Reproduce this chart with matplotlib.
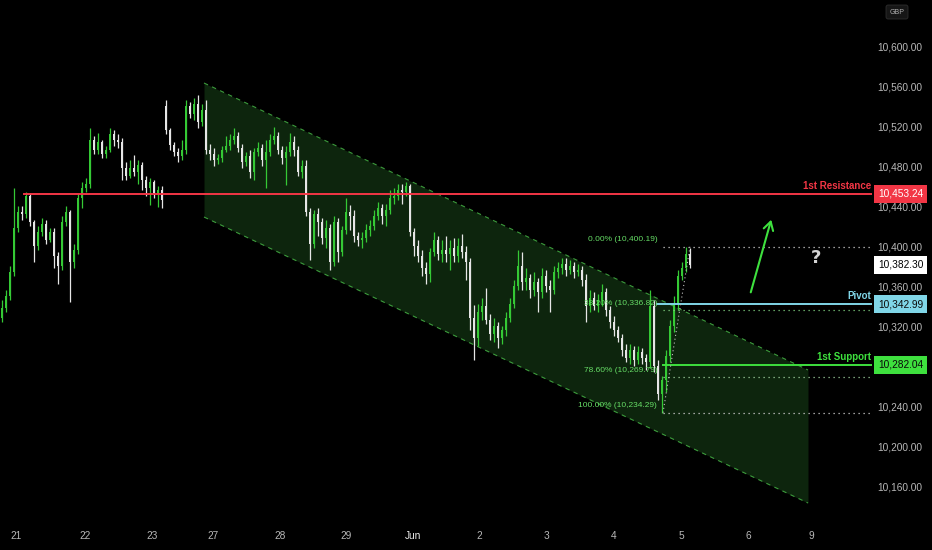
import numpy as np
import matplotlib.pyplot as plt
from matplotlib.transforms import blended_transform_factory

# hourly-ish candles (GBP index)
opens = [10329, 10339, 10351, 10375, 10419, 10435, 10433, 10451, 10425, 10401,
         10415, 10423, 10407, 10415, 10391, 10381, 10425, 10435, 10385, 10397,
         10449, 10459, 10463, 10507, 10497, 10505, 10493, 10497, 10513, 10507,
         10505, 10479, 10471, 10479, 10475, 10482, 10467, 10459, 10465, 10453,
         10457, 10541, 10517, 10502, 10495, 10491, 10497, 10541, 10533, 10543,
         10525, 10537, 10497, 10493, 10487, 10489, 10497, 10501, 10507, 10511,
         10499, 10485, 10491, 10475, 10495, 10499, 10487, 10495, 10507, 10511,
         10497, 10489, 10495, 10505, 10497, 10475, 10481, 10435, 10403, 10433,
         10425, 10409, 10419, 10385, 10425, 10395, 10417, 10435, 10431, 10411,
         10407, 10409, 10417, 10421, 10431, 10439, 10431, 10437, 10449, 10451,
         10457, 10455, 10461, 10415, 10401, 10391, 10379, 10373, 10395, 10407,
         10393, 10397, 10393, 10399, 10391, 10401, 10395, 10385, 10329, 10309,
         10335, 10341, 10327, 10313, 10321, 10309, 10317, 10329, 10343, 10361,
         10381, 10365, 10369, 10357, 10365, 10355, 10371, 10361, 10357, 10375,
         10379, 10383, 10377, 10381, 10375, 10377, 10367, 10341, 10349, 10341,
         10347, 10355, 10337, 10325, 10317, 10309, 10297, 10289, 10297, 10287,
         10295, 10289, 10285, 10341, 10281, 10253, 10267, 10291, 10321, 10343,
         10371, 10379, 10393]
closes = [10339, 10351, 10375, 10419, 10435, 10433, 10451, 10425, 10401, 10415,
          10423, 10407, 10415, 10391, 10381, 10425, 10435, 10385, 10397, 10449,
          10459, 10463, 10507, 10497, 10505, 10493, 10497, 10513, 10507, 10505,
          10479, 10471, 10479, 10475, 10482, 10467, 10459, 10465, 10453, 10457,
          10447, 10517, 10502, 10495, 10491, 10497, 10541, 10533, 10543, 10525,
          10537, 10497, 10493, 10487, 10489, 10497, 10501, 10507, 10511, 10499,
          10485, 10491, 10475, 10495, 10499, 10487, 10495, 10507, 10511, 10497,
          10489, 10495, 10505, 10497, 10475, 10481, 10435, 10403, 10433, 10425,
          10409, 10419, 10385, 10425, 10395, 10417, 10435, 10431, 10411, 10407,
          10409, 10417, 10421, 10431, 10439, 10431, 10437, 10449, 10451, 10457,
          10455, 10461, 10415, 10401, 10391, 10379, 10373, 10395, 10407, 10393,
          10397, 10393, 10399, 10391, 10401, 10395, 10385, 10329, 10309, 10335,
          10341, 10327, 10313, 10321, 10309, 10317, 10329, 10343, 10361, 10381,
          10365, 10369, 10357, 10365, 10355, 10371, 10361, 10357, 10375, 10379,
          10383, 10377, 10381, 10375, 10377, 10367, 10341, 10349, 10341, 10347,
          10355, 10337, 10325, 10317, 10309, 10297, 10289, 10297, 10287, 10295,
          10289, 10285, 10341, 10281, 10253, 10267, 10291, 10321, 10343, 10371,
          10379, 10393, 10382]
highs = [10347, 10357, 10381, 10459, 10441, 10441, 10455, 10454, 10427, 10421,
         10429, 10427, 10419, 10419, 10395, 10431, 10441, 10437, 10403, 10453,
         10465, 10469, 10519, 10511, 10514, 10507, 10501, 10519, 10517, 10513,
         10509, 10485, 10487, 10492, 10487, 10485, 10471, 10469, 10467, 10461,
         10461, 10547, 10519, 10505, 10499, 10507, 10547, 10545, 10549, 10552,
         10543, 10547, 10503, 10499, 10493, 10501, 10511, 10513, 10519, 10515,
         10503, 10495, 10497, 10499, 10505, 10503, 10507, 10513, 10520, 10515,
         10501, 10501, 10514, 10511, 10501, 10487, 10487, 10439, 10437, 10439,
         10429, 10427, 10423, 10431, 10429, 10421, 10449, 10442, 10437, 10415,
         10415, 10423, 10427, 10437, 10445, 10443, 10443, 10457, 10459, 10463,
         10463, 10465, 10463, 10419, 10407, 10397, 10385, 10399, 10415, 10411,
         10407, 10411, 10407, 10409, 10409, 10413, 10401, 10389, 10342, 10343,
         10349, 10359, 10333, 10329, 10325, 10321, 10335, 10349, 10367, 10397,
         10395, 10379, 10373, 10375, 10369, 10379, 10377, 10367, 10381, 10385,
         10389, 10389, 10387, 10385, 10383, 10381, 10373, 10357, 10355, 10353,
         10363, 10359, 10341, 10331, 10321, 10313, 10303, 10303, 10301, 10301,
         10299, 10293, 10357, 10347, 10287, 10271, 10297, 10327, 10351, 10377,
         10385, 10400, 10399]
lows = [10325, 10335, 10347, 10371, 10415, 10427, 10429, 10421, 10385, 10397,
        10411, 10403, 10405, 10379, 10363, 10377, 10421, 10345, 10379, 10393,
        10439, 10455, 10459, 10493, 10493, 10489, 10489, 10495, 10501, 10499,
        10467, 10467, 10469, 10471, 10463, 10457, 10451, 10442, 10449, 10440,
        10439, 10513, 10497, 10491, 10485, 10487, 10493, 10529, 10527, 10519,
        10521, 10493, 10487, 10481, 10483, 10485, 10495, 10497, 10503, 10495,
        10479, 10481, 10469, 10467, 10491, 10481, 10459, 10491, 10503, 10493,
        10483, 10462, 10491, 10491, 10471, 10469, 10431, 10387, 10399, 10411,
        10403, 10399, 10377, 10381, 10385, 10391, 10413, 10417, 10405, 10401,
        10399, 10405, 10411, 10417, 10427, 10423, 10421, 10433, 10443, 10447,
        10443, 10451, 10411, 10391, 10385, 10371, 10363, 10365, 10391, 10387,
        10385, 10385, 10377, 10385, 10385, 10389, 10367, 10317, 10287, 10301,
        10327, 10323, 10307, 10305, 10299, 10303, 10311, 10325, 10339, 10357,
        10357, 10357, 10349, 10351, 10335, 10349, 10355, 10335, 10353, 10369,
        10373, 10371, 10373, 10369, 10371, 10361, 10325, 10335, 10337, 10335,
        10341, 10331, 10319, 10311, 10305, 10291, 10285, 10283, 10281, 10283,
        10283, 10277, 10279, 10275, 10247, 10234, 10255, 10285, 10315, 10337,
        10367, 10375, 10379]

day_labels = ['21', '22', '23', '27', '28', '29', 'Jun', '2', '3', '4', '5', '6', '9']
day_pos = [3.5, 20.75, 37.5, 52.75, 69.5, 86, 102.75, 119.25, 136, 153, 169.75, 186.5, 202.25]
price_ticks = [10160, 10200, 10240, 10320, 10360, 10400, 10440, 10480, 10520, 10560, 10600]

# descending channel (bar index, price)
chan_x = [50.5, 201.5]
chan_top = [10564, 10277]
chan_bot = [10430, 10144]

resistance = 10453.24
pivot = 10342.99
support = 10282.04
last_price = 10382.30
fib_pcts = ['0.00%', '38.20%', '78.60%', '100.00%']
fib_levels = [10400.19, 10336.82, 10269.79, 10234.29]

GREEN = '#35c935'
WHITE = '#e6e6e6'
RED = '#f23645'
CYAN = '#80d6e8'
LIME = '#3ee03e'
FONT = 'Liberation Sans'

fig = plt.figure(figsize=(9.32, 5.5), dpi=100, facecolor='black')
ax = fig.add_axes([0, 30 / 550, 872 / 932, 520 / 550])
ax.set_facecolor('black')
ax.set_xlim(-0.5, 217.5)
ax.set_ylim(10127, 10647)
for s in ax.spines.values():
    s.set_visible(False)

# channel
ax.fill_between(chan_x, chan_bot, chan_top, color='#0d250d', zorder=1, lw=0)
ax.plot(chan_x, chan_top, color='#3c9c3c', lw=0.8, ls=(0, (4, 4)), zorder=2)
ax.plot(chan_x, chan_bot, color='#3c9c3c', lw=0.8, ls=(0, (4, 4)), zorder=2)

# candles
o = np.array(opens)
c = np.array(closes)
idx = np.arange(len(o))
cols = np.where(c >= o, GREEN, WHITE)
ax.vlines(idx, lows, highs, colors=cols, lw=0.9, zorder=3)
body = np.maximum(np.abs(c - o), 1.5)
ax.bar(idx, body, bottom=np.minimum(o, c), width=0.65, color=cols, lw=0, zorder=4)

# horizontal levels
ax.plot([5.5, 217.5], [resistance] * 2, color=RED, lw=1.4, zorder=5)
ax.plot([163.75, 217.5], [pivot] * 2, color=CYAN, lw=1.4, zorder=5)
ax.plot([165.25, 217.5], [support] * 2, color=LIME, lw=1.4, zorder=5)

# fib retracement
fib_cols = ['#cfcfcf', '#7fcf7f', '#9fcf9f', '#cfcfcf']
for lvl, pct, fc in zip(fib_levels, fib_pcts, fib_cols):
    ax.plot([165.25, 217.5], [lvl, lvl], color=fc, lw=0.9, ls=(0, (1, 3)), zorder=5)
    ax.text(163.8, lvl + 7, f'{pct} ({lvl:,.2f})', color='#66dd66', fontsize=6,
            ha='right', va='center', family=FONT, zorder=6)
ax.plot([165.25, 172], [fib_levels[3], fib_levels[0]], color='#bdbdbd', lw=0.8,
        ls=(0, (1, 2.5)), zorder=5)

# projection arrow and question mark
ax.annotate('', xy=(192.5, 10430), xytext=(187, 10352),
            arrowprops=dict(arrowstyle='->,head_length=0.6,head_width=0.35', color=LIME, lw=1.5),
            zorder=6)
ax.text(203.5, 10389, '?', color='#d4d4d4', fontsize=13, fontweight='bold',
        ha='center', va='center', zorder=6)

# level names
for val, name, col in [(resistance, '1st Resistance', RED), (pivot, 'Pivot', CYAN),
                       (support, '1st Support', LIME)]:
    ax.text(217.2, val + 8, name, color=col, fontsize=7, ha='right', va='center',
            fontweight='bold', family=FONT, zorder=6)

# axes ticks
ax.yaxis.tick_right()
ax.set_yticks(price_ticks)
ax.set_yticklabels([f'{t:,.2f}' for t in price_ticks])
ax.tick_params(axis='y', length=0, pad=4, labelsize=7.3, labelcolor='#b8b8b8')
ax.set_xticks(day_pos)
ax.set_xticklabels(day_labels)
ax.tick_params(axis='x', length=0, pad=8, labelsize=7.3, labelcolor='#b8b8b8')
for lab in ax.get_xticklabels():
    if lab.get_text() == 'Jun':
        lab.set_color('#ececec')
for lab in ax.get_yticklabels() + ax.get_xticklabels():
    lab.set_family(FONT)

# price tags on the right scale
tr = blended_transform_factory(ax.transAxes, ax.transData)
tags = [(resistance, RED, 'white'), (last_price, 'white', 'black'),
        (pivot, CYAN, '#0a0a0a'), (support, LIME, '#0a0a0a')]
for val, bg, fg in tags:
    ax.text(1.0 + 6 / 872, val, f'{val:,.2f}', transform=tr, color=fg, fontsize=7.3,
            family=FONT, ha='left', va='center', clip_on=False, zorder=8,
            bbox=dict(boxstyle='square,pad=0.4', fc=bg, ec='none'))

fig.text(897 / 932, 1 - 12 / 550, 'GBP', color='#b0b0b0', fontsize=5, ha='center', va='center',
         family=FONT,
         bbox=dict(boxstyle='round,pad=0.5,rounding_size=0.3', fc='#161616', ec='#2e2e2e', lw=0.6))

fig.savefig('out.png', dpi=100, facecolor='black')
